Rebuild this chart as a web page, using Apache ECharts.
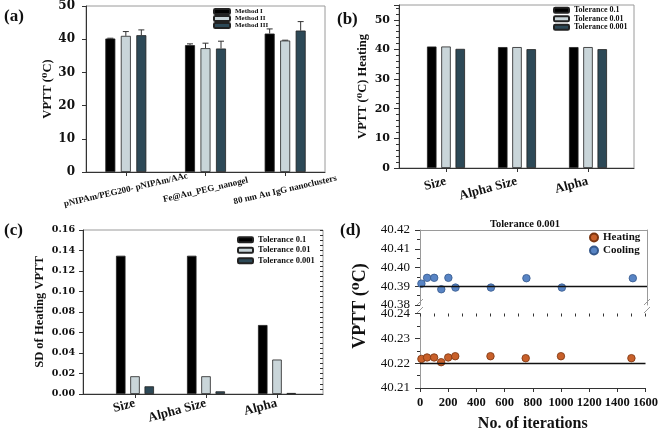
<!DOCTYPE html>
<html><head><meta charset="utf-8">
<script src="https://cdn.jsdelivr.net/npm/echarts/dist/echarts.min.js"></script>
<style>html,body{margin:0;padding:0;background:#fff}#c{width:661px;height:433px}</style>
</head><body><div id="c"></div>
<script>
// ---------- DATA ----------
const catsA = ['pNIPAm/PEG200- pNIPAm/AAc', 'Fe@Au_PEG_nanogel', '80 nm Au IgG nanoclusters'];
const methodNames = ['Method I', 'Method II', 'Method III'];
const methodI = [40.2, 38.2, 41.7];
const methodII = [41.0, 37.3, 39.6];
const methodIII = [41.2, 37.2, 42.6];
const errI = [0.1, 0.4, 1.4];
const errII = [1.3, 1.5, 0.1];
const errIII = [1.6, 2.2, 2.7];

const catsBC = ['Size', 'Alpha Size', 'Alpha'];
const tolNames = ['Tolerance 0.1', 'Tolerance 0.01', 'Tolerance 0.001'];
const heatTol1 = [41.0, 40.8, 40.8];
const heatTol2 = [41.0, 40.8, 40.8];
const heatTol3 = [40.2, 40.1, 40.1];
const sdTol1 = [0.1349, 0.1349, 0.0673];
const sdTol2 = [0.0173, 0.0173, 0.0336];
const sdTol3 = [0.0075, 0.0026, 0.0010];

const iterations = [10, 50, 100, 150, 200, 250, 500, 750, 1000, 1500];
const heating = [40.2217, 40.2223, 40.2223, 40.2204, 40.2223, 40.2228, 40.2228, 40.2220, 40.2228, 40.2220];
const cooling = [40.3914, 40.3945, 40.3945, 40.3884, 40.3945, 40.3893, 40.3893, 40.3943, 40.3893, 40.3943];
const heatingMean = 40.2222;
const coolingMean = 40.3920;

// ---------- STYLE ----------
const SERIF = '"Liberation Serif","Times New Roman","DejaVu Serif",serif';
const WIDE = '"DejaVu Serif",serif';
const barColors = ['#000000', '#c9d5d9', '#2d4957'];
const AX = '#333', FR = '#9a9a9a';
const txt = (size, weight, fam) => ({fontFamily: fam || SERIF, fontSize: size, fontWeight: weight || 'bold', color: '#111'});

const chart = echarts.init(document.getElementById('c'), null, {renderer: 'canvas'});

function hiddenX(grid, min, max, showLine, pos) {
  return {gridIndex: grid, type: 'value', min: min, max: max, position: pos || 'bottom',
    axisLine: {show: !!showLine, onZero: false, lineStyle: {color: AX, width: 1}},
    axisTick: {show: false}, axisLabel: {show: false}, splitLine: {show: false}};
}
function hiddenY(grid, min, max) {
  return {gridIndex: grid, type: 'value', min: min, max: max, show: false, splitLine: {show: false}};
}
function catX(grid, cats, rotate, margin, size, align) {
  const lab = Object.assign({interval: 0, rotate: rotate, margin: margin}, txt(size));
  if (align) { lab.align = align; lab.verticalAlign = 'middle'; }
  return {gridIndex: grid, type: 'category', data: cats,
    axisLine: {show: false}, axisTick: {show: true, alignWithLabel: true, length: 4, lineStyle: {color: AX}},
    axisLabel: lab, splitLine: {show: false}};
}

const BW_A = 10, GAP_A = 0.55;
function errRender(k) {
  return function (params, api) {
    const x = api.value(0), v = api.value(1), e = api.value(2);
    const b = api.coord([x, v]), t = api.coord([x, v + e]);
    const cx = b[0] + (k - 1) * BW_A * (1 + GAP_A);
    const st = {stroke: '#333', lineWidth: 1};
    return {type: 'group', children: [
      {type: 'line', shape: {x1: cx, y1: b[1], x2: cx, y2: t[1]}, style: st},
      {type: 'line', shape: {x1: cx - 3, y1: t[1], x2: cx + 3, y2: t[1]}, style: st}
    ]};
  };
}

const series = [];
// (a)
[methodI, methodII, methodIII].forEach((d, k) => {
  series.push({type: 'bar', name: methodNames[k], xAxisIndex: 0, yAxisIndex: 0, data: d,
    barWidth: BW_A, barGap: (GAP_A * 100) + '%',
    itemStyle: {color: barColors[k], borderColor: '#222', borderWidth: 0.8}});
});
[[methodI, errI], [methodII, errII], [methodIII, errIII]].forEach((p, k) => {
  series.push({type: 'custom', name: 'err' + k, xAxisIndex: 0, yAxisIndex: 0, z: 5,
    renderItem: errRender(k), encode: {x: 0, y: 1},
    data: p[0].map((v, i) => [i, v, p[1][i]])});
});
// (b)
[heatTol1, heatTol2, heatTol3].forEach((d, k) => {
  series.push({type: 'bar', name: tolNames[k], xAxisIndex: 2, yAxisIndex: 2, data: d,
    barWidth: 9.5, barGap: '50%',
    itemStyle: {color: barColors[k], borderColor: '#222', borderWidth: 0.8}});
});
// (c)
[sdTol1, sdTol2, sdTol3].forEach((d, k) => {
  series.push({type: 'bar', name: tolNames[k], xAxisIndex: 4, yAxisIndex: 4, data: d,
    barWidth: 9.5, barGap: '50%',
    itemStyle: {color: barColors[k], borderColor: '#222', borderWidth: 0.8}});
});
// (d)
const ml = (v) => ({silent: true, symbol: ['none', 'none'], label: {show: false},
  lineStyle: {color: '#111', width: 1.3, type: 'solid'}, data: [{yAxis: v}]});
series.push({type: 'scatter', name: 'Heating', xAxisIndex: 6, yAxisIndex: 6,
  data: iterations.map((x, i) => [x, heating[i]]), symbolSize: 7.5, z: 4,
  itemStyle: {color: '#c8602a', borderColor: '#7a3510', borderWidth: 0.8, opacity: 1},
  markLine: ml(heatingMean)});
series.push({type: 'scatter', name: 'Cooling', xAxisIndex: 5, yAxisIndex: 5,
  data: iterations.map((x, i) => [x, cooling[i]]), symbolSize: 7.5, z: 4,
  itemStyle: {color: '#5884c4', borderColor: '#35588c', borderWidth: 0.8, opacity: 1},
  markLine: ml(coolingMean)});

const gridBorder = {show: true, borderColor: FR, borderWidth: 1, backgroundColor: 'transparent'};

const option = {
  animation: false,
  backgroundColor: '#ffffff',
  title: {text: 'Tolerance 0.001', left: 520, top: 214, textAlign: 'center',
    textStyle: txt(10.5)},
  grid: [
    Object.assign({left: 86, top: 5, width: 239, height: 167}, gridBorder),   // 0 a
    Object.assign({left: 399, top: 5, width: 235, height: 163}, gridBorder),  // 1 b frame
    {left: 410.5, top: 5, width: 213, height: 163},                           // 2 b data
    Object.assign({left: 83, top: 230, width: 240, height: 164}, gridBorder), // 3 c frame
    {left: 99.5, top: 230, width: 213, height: 164},                          // 4 c data
    {left: 420, top: 230, width: 227, height: 75},                            // 5 d upper
    {left: 420, top: 313.5, width: 227, height: 75.5}                         // 6 d lower
  ],
  xAxis: [
    Object.assign(catX(0, catsA, 13, 18, 9, 'center'), {axisLine: {show: true, lineStyle: {color: AX}}}),
    hiddenX(1, 0, 1, true),
    catX(2, catsBC, 15, 13, 13),
    hiddenX(3, 0, 1, true),
    catX(4, catsBC, 15, 9, 13),
    Object.assign(hiddenX(5, 0, 1600, true, 'top'), {axisLine: {show: true, onZero: false, lineStyle: {color: FR}}}),
    {gridIndex: 6, type: 'value', min: 0, max: 1600, interval: 200,
      name: 'No. of iterations', nameLocation: 'middle', nameGap: 28, nameTextStyle: txt(16),
      axisLine: {show: true, onZero: false, lineStyle: {color: AX}},
      axisTick: {show: true, length: 4, lineStyle: {color: AX}},
      axisLabel: Object.assign({margin: 8, hideOverlap: false, showMaxLabel: true, formatter: v => String(v)}, txt(12.5)),
      splitLine: {show: false}},
    {gridIndex: 6, type: 'value', min: 0, max: 1600, interval: 100,
      axisLine: {show: false}, axisTick: {show: true, inside: true, length: 3, lineStyle: {color: AX}},
      axisLabel: {show: false}, splitLine: {show: false}}
  ],
  yAxis: [
    {gridIndex: 0, type: 'value', min: 0, max: 50, interval: 10,
      name: 'VPTT (\u2070C)', nameLocation: 'middle', nameGap: 30, nameTextStyle: txt(12.5),
      axisLine: {show: true, lineStyle: {color: AX}}, axisTick: {show: true, length: 4, lineStyle: {color: AX}},
      axisLabel: Object.assign({margin: 11}, txt(12, 'bold', WIDE)), splitLine: {show: false}},
    {gridIndex: 1, type: 'value', min: 0, max: 55, interval: 10,
      name: 'VPTT (\u2070C) Heating', nameLocation: 'middle', nameGap: 30, nameTextStyle: txt(12.5),
      axisLine: {show: true, lineStyle: {color: AX}}, axisTick: {show: true, length: 5, lineStyle: {color: AX}},
      minorTick: {show: true, splitNumber: 5, length: 3, lineStyle: {color: AX}},
      axisLabel: Object.assign({margin: 9, showMaxLabel: false, formatter: v => (v % 10 === 0 ? String(v) : '')}, txt(11, 'bold', WIDE)),
      splitLine: {show: false}},
    hiddenY(2, 0, 55),
    {gridIndex: 3, type: 'value', min: 0, max: 0.16, interval: 0.02,
      name: 'SD of Heating VPTT', nameLocation: 'middle', nameGap: 37, nameTextStyle: txt(12.5),
      axisLine: {show: true, lineStyle: {color: AX}}, axisTick: {show: true, length: 4, lineStyle: {color: AX}},
      axisLabel: Object.assign({margin: 8, formatter: v => v.toFixed(2)}, txt(9.5, 'bold', WIDE)), splitLine: {show: false}},
    hiddenY(4, 0, 0.16),
    {gridIndex: 5, type: 'value', min: 40.38, max: 40.42, interval: 0.01,
      axisLine: {show: true, lineStyle: {color: FR}}, axisTick: {show: true, length: 5, lineStyle: {color: AX}},
      minorTick: {show: true, splitNumber: 2, length: 3, lineStyle: {color: AX}},
      axisLabel: Object.assign({margin: 10, formatter: v => v.toFixed(2)}, txt(13, 'normal')), splitLine: {show: false}},
    {gridIndex: 6, type: 'value', min: 40.21, max: 40.24, interval: 0.01,
      axisLine: {show: true, lineStyle: {color: FR}}, axisTick: {show: true, length: 5, lineStyle: {color: AX}},
      minorTick: {show: true, splitNumber: 2, length: 3, lineStyle: {color: AX}},
      axisLabel: Object.assign({margin: 10, formatter: v => v.toFixed(2)}, txt(13, 'normal')), splitLine: {show: false}},
    {gridIndex: 5, type: 'value', min: 40.38, max: 40.42, position: 'right',
      axisLine: {show: true, lineStyle: {color: FR}}, axisTick: {show: false}, axisLabel: {show: false}, splitLine: {show: false}},
    {gridIndex: 6, type: 'value', min: 40.21, max: 40.24, position: 'right',
      axisLine: {show: true, lineStyle: {color: FR}}, axisTick: {show: false}, axisLabel: {show: false}, splitLine: {show: false}},
    {gridIndex: 3, type: 'value', min: 0, max: 0.16, interval: 0.005,
      axisLine: {show: false}, axisTick: {show: true, inside: true, length: 3, lineStyle: {color: AX}},
      axisLabel: {show: false}, splitLine: {show: false}}
  ],
  legend: [
    {data: methodNames, orient: 'vertical', left: 211, top: 6, itemWidth: 16, itemHeight: 5, itemGap: 0,
      padding: 2, textStyle: Object.assign({lineHeight: 7}, txt(7)), selectedMode: false},
    {data: tolNames, orient: 'vertical', left: 551, top: 4, itemWidth: 15, itemHeight: 5, itemGap: 0,
      padding: 2, textStyle: Object.assign({lineHeight: 8.5}, txt(8)), selectedMode: false},
    {data: tolNames, orient: 'vertical', left: 235, top: 233, itemWidth: 15, itemHeight: 5, itemGap: 1,
      padding: 2, textStyle: Object.assign({lineHeight: 9.5}, txt(8.5)), selectedMode: false},
    {data: ['Heating', 'Cooling'], orient: 'vertical', left: 587, top: 230, icon: 'circle', itemWidth: 8, itemHeight: 8, itemGap: 2,
      padding: 2, textStyle: Object.assign({lineHeight: 11}, txt(11)), selectedMode: false}
  ],
  graphic: [
    {type: 'text', left: 4, top: 8, style: {text: '(a)', font: 'bold 17px ' + SERIF, fill: '#111'}},
    {type: 'text', left: 337, top: 11, style: {text: '(b)', font: 'bold 17px ' + SERIF, fill: '#111'}},
    {type: 'text', left: 4, top: 222, style: {text: '(c)', font: 'bold 17px ' + SERIF, fill: '#111'}},
    {type: 'text', left: 340, top: 222, style: {text: '(d)', font: 'bold 17px ' + SERIF, fill: '#111'}},
    {type: 'text', x: 360, y: 306, rotation: Math.PI / 2,
      style: {text: 'VPTT (\u2070C)', font: 'bold 18px ' + SERIF, fill: '#111', textAlign: 'center', textVerticalAlign: 'middle'}},
    {type: 'line', shape: {x1: 417, y1: 305, x2: 423, y2: 299}, style: {stroke: FR, lineWidth: 1}},
    {type: 'line', shape: {x1: 417, y1: 313, x2: 423, y2: 307}, style: {stroke: FR, lineWidth: 1}},
    {type: 'line', shape: {x1: 644, y1: 305, x2: 650, y2: 299}, style: {stroke: FR, lineWidth: 1}},
    {type: 'line', shape: {x1: 644, y1: 313, x2: 650, y2: 307}, style: {stroke: FR, lineWidth: 1}}
  ],
  series: series
};
chart.setOption(option);
</script>
</body></html>
